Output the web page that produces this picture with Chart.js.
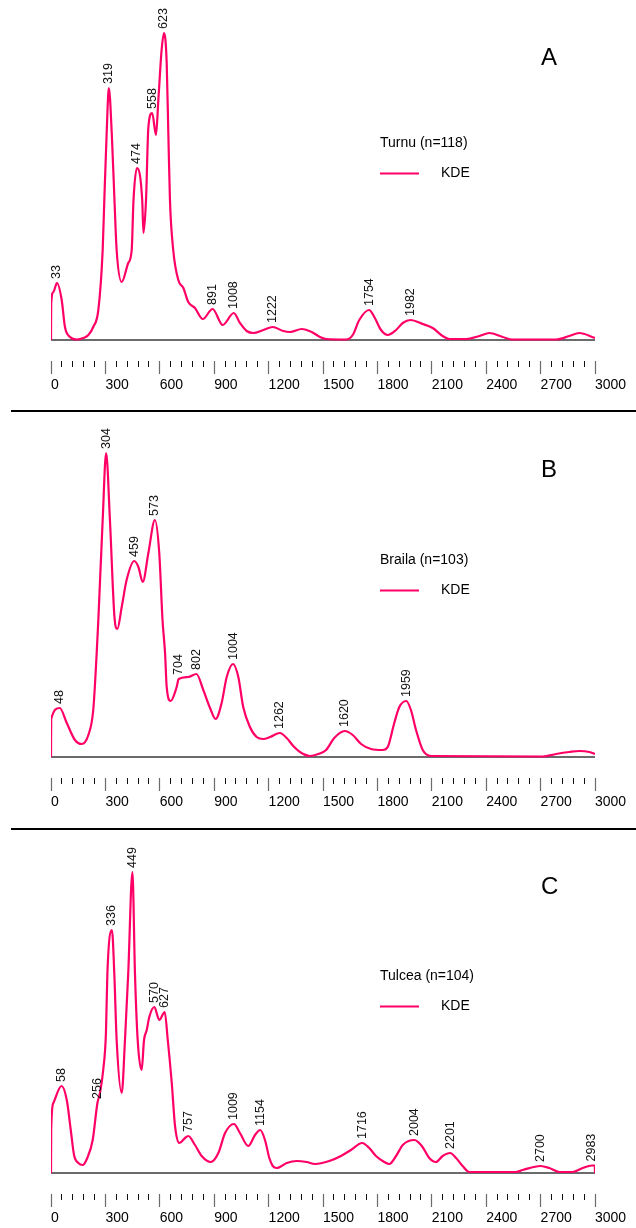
<!DOCTYPE html>
<html>
<head>
<meta charset="utf-8">
<script src="https://cdn.jsdelivr.net/npm/chart.js@4.4.1/dist/chart.umd.min.js"></script>
<style>
  html, body { margin: 0; padding: 0; background: #fff; overflow: hidden; }
  #page { position: relative; width: 636px; height: 1228px; overflow: hidden; background: #fff; }
  canvas { position: absolute; left: 0; }
</style>
</head>
<body>
<div id="page">
  <canvas id="panelA" width="636" height="417" style="top:0px"></canvas>
  <canvas id="panelB" width="636" height="417" style="top:417px"></canvas>
  <canvas id="panelC" width="636" height="417" style="top:833px"></canvas>
</div>
<script>
// KDE curves (age in Ma, density in arbitrary units)
const turnuAge = [0, 1, 13, 33, 59, 77, 105, 142, 178, 206, 233, 261, 285, 294, 307, 319, 335, 350, 362, 390,
  426, 445, 455, 474, 503, 510, 524, 537, 558, 579, 592, 610, 623, 638, 647, 656, 674, 702, 730, 757,
  794, 837, 891, 947, 1008, 1042, 1079, 1116, 1171, 1222, 1281, 1318, 1383, 1438, 1483, 1517, 1627, 1664, 1700, 1754,
  1783, 1820, 1857, 1903, 1940, 1982, 2050, 2105, 2160, 2197, 2289, 2362, 2417, 2491, 2546, 2785, 2858, 2913, 3000];
const turnuDensity = [0, 36, 48, 57, 40, 13, 3, 0.5, 2, 5, 13, 30, 90, 140, 207, 252, 207, 140, 90, 58,
  77, 90, 140, 172, 140, 107, 140, 213, 227, 205, 240, 290, 307, 277, 207, 140, 90, 60, 52, 38,
  32, 21, 31, 15, 27, 17, 9, 7, 10, 13, 9, 8, 11, 8, 3, 1, 0.5, 5, 20, 30,
  23, 10, 5, 10, 17, 20, 16, 12, 4, 1, 1, 4, 7, 3, 0.5, 0.5, 4, 7, 2];
const turnuPeaks = [33, 319, 474, 558, 623, 891, 1008, 1222, 1754, 1982];

const brailaAge = [0, 1, 48, 87, 132, 169, 206, 233, 252, 261, 285, 304, 325, 350, 366, 390, 417, 459, 482, 506,
  537, 573, 597, 615, 629, 638, 660, 693, 704, 757, 802, 840, 877, 908, 941, 969, 1004, 1033, 1060, 1097,
  1134, 1171, 1208, 1262, 1300, 1336, 1373, 1428, 1474, 1517, 1562, 1620, 1664, 1710, 1765, 1829, 1857, 1893, 1921, 1959,
  1985, 2013, 2050, 2096, 2712, 2785, 2858, 2913, 2969, 3000];
const brailaDensity = [0, 38, 49, 34, 17, 13, 22, 47, 104, 137, 237, 304, 237, 140, 128, 150, 177, 196, 190, 175,
  204, 237, 204, 137, 104, 70, 56, 70, 78, 80, 83, 67, 49, 38, 54, 80, 93, 80, 50, 30,
  20, 18, 20, 24, 19, 11, 5, 1, 3, 7, 19, 26, 22, 13, 8, 7, 10, 34, 50, 56,
  47, 27, 7, 1, 0.5, 3, 5, 6, 5, 3];
const brailaPeaks = [48, 304, 459, 573, 704, 802, 1004, 1262, 1620, 1959];

const tulceaAge = [0, 1, 13, 58, 87, 109, 127, 151, 175, 200, 230, 256, 270, 288, 303, 311, 336, 349, 362, 390,
  408, 426, 449, 463, 478, 500, 513, 528, 542, 570, 597, 627, 644, 666, 684, 708, 739, 757, 794, 831,
  881, 923, 960, 1009, 1042, 1088, 1125, 1154, 1180, 1204, 1223, 1245, 1300, 1355, 1410, 1456, 1535, 1599, 1654, 1716,
  1755, 1792, 1838, 1866, 1903, 1940, 2004, 2045, 2086, 2123, 2160, 2201, 2234, 2270, 2307, 2564, 2601, 2700, 2748, 2803,
  2877, 2932, 2983, 2999, 3000];
const tulceaDensity = [0, 43, 70, 87, 73, 43, 18, 10, 8, 15, 33, 70, 80, 103, 140, 200, 243, 200, 133, 80,
  133, 200, 301, 200, 133, 103, 133, 143, 156, 166, 153, 161, 133, 90, 47, 30, 35, 37, 28, 17,
  11, 20, 40, 49, 40, 27, 38, 43, 33, 15, 7, 5, 10, 12, 11, 9, 12, 17, 23, 30,
  25, 17, 11, 9, 17, 28, 33, 27, 15, 11, 17, 20, 15, 7, 1, 1, 3, 7, 5, 1,
  1, 5, 7.5, 7.5, 0];
const tulceaPeaks = [58, 256, 336, 449, 570, 627, 757, 1009, 1154, 1716, 2004, 2201, 2700, 2983];

// ruler: labelled ticks every 300 Ma, small ticks every 60 Ma
const ageTicks = [0, 300, 600, 900, 1200, 1500, 1800, 2100, 2400, 2700, 3000];
const minorStep = 60;

const FONT = '"Liberation Sans", Arial, Helvetica, sans-serif';
const PINK = '#ff0066';

const panelDecor = {
  id: 'panelDecor',
  afterDraw(chart, args, o) {
    const ctx = chart.ctx;
    const xs = chart.scales.x, ys = chart.scales.y;
    const pts = chart.data.datasets[0].data;
    ctx.save();
    // peak ages, written upward just above each peak
    ctx.font = '12.5px ' + FONT;
    ctx.fillStyle = '#111';
    ctx.textAlign = 'left';
    ctx.textBaseline = 'middle';
    o.peaks.forEach(age => {
      const p = pts.find(d => d.x === age);
      const px = xs.getPixelForValue(age);
      const py = ys.getPixelForValue(p.y);
      ctx.save();
      ctx.translate(px, py - 4);
      ctx.rotate(-Math.PI / 2);
      ctx.fillText(String(age), 0, 0);
      ctx.restore();
    });
    // panel letter
    ctx.font = '24px ' + FONT;
    ctx.fillStyle = '#000';
    ctx.textBaseline = 'alphabetic';
    ctx.fillText(o.letter, 541, o.letterY);
    // sample name and legend
    ctx.font = '14px ' + FONT;
    ctx.fillText(o.title, 380, 146.5);
    ctx.fillText('KDE', 441, 177);
    ctx.strokeStyle = PINK;
    ctx.lineWidth = 2;
    ctx.beginPath();
    ctx.moveTo(380, 173.5);
    ctx.lineTo(419, 173.5);
    ctx.stroke();
    // separator under the panel
    if (o.sepY) {
      ctx.strokeStyle = '#000';
      ctx.lineWidth = 2;
      ctx.beginPath();
      ctx.moveTo(11, o.sepY);
      ctx.lineTo(636, o.sepY);
      ctx.stroke();
    }
    ctx.restore();
  }
};

function makePanel(id, ages, density, peaks, title, letter, letterY, sepY) {
  const curve = ages.map((a, i) => ({ x: a, y: density[i] }));
  new Chart(document.getElementById(id), {
    type: 'line',
    data: {
      datasets: [
        {
          label: 'KDE',
          data: curve,
          borderColor: PINK,
          borderWidth: 2.2,
          pointRadius: 0,
          fill: false,
          cubicInterpolationMode: 'monotone'
        },
        {
          label: 'baseline',
          data: [{ x: 0, y: 0 }, { x: 3000, y: 0 }],
          borderColor: '#6b6b6b',
          borderWidth: 2,
          pointRadius: 0,
          fill: false
        }
      ]
    },
    options: {
      responsive: false,
      animation: false,
      events: [],
      layout: { padding: { top: 10, left: 51, right: 41, bottom: 16 } },
      scales: {
        x: {
          type: 'linear',
          position: 'bottom',
          min: 0,
          max: 3000,
          afterBuildTicks: s => { s.ticks = ageTicks.map(v => ({ value: v })); },
          afterFit: s => { s.height = 40; },
          border: { display: false },
          grid: { drawOnChartArea: false, drawTicks: true, tickLength: 13, tickWidth: 1.2, tickColor: '#6b6b6b' },
          ticks: {
            align: 'start',
            padding: 3,
            maxRotation: 0,
            autoSkip: false,
            color: '#000',
            font: { family: FONT, size: 14 },
            callback: v => String(v)
          }
        },
        xMinor: {
          type: 'linear',
          axis: 'x',
          position: { y: -21 },
          min: 0,
          max: 3000,
          border: { display: false },
          grid: {
            drawOnChartArea: false,
            drawTicks: true,
            tickLength: 6,
            tickWidth: 1,
            tickColor: c => (c.tick.value % 300 === 0 ? 'rgba(0,0,0,0)' : '#111')
          },
          ticks: { display: false, stepSize: minorStep, autoSkip: false, maxTicksLimit: 100 }
        },
        y: { display: false, min: -21, max: 330 }
      },
      plugins: {
        legend: { display: false },
        tooltip: { enabled: false },
        panelDecor: { peaks, title, letter, letterY, sepY }
      }
    },
    plugins: [panelDecor]
  });
}

makePanel('panelA', turnuAge, turnuDensity, turnuPeaks, 'Turnu (n=118)', 'A', 64.5, 411);
makePanel('panelB', brailaAge, brailaDensity, brailaPeaks, 'Braila (n=103)', 'B', 60, 412);
makePanel('panelC', tulceaAge, tulceaDensity, tulceaPeaks, 'Tulcea (n=104)', 'C', 60.5, 0);
</script>
</body>
</html>
